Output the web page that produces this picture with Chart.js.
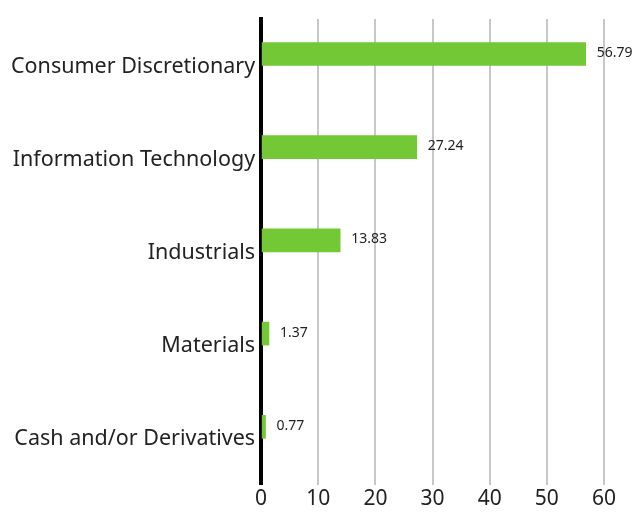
<!DOCTYPE html>
<html>
<head>
<meta charset="utf-8">
<script src="https://cdn.jsdelivr.net/npm/chart.js@4/dist/chart.umd.min.js"></script>
<style>
  html, body { margin: 0; padding: 0; background: #fff; }
  #wrap { width: 635px; height: 513px; }
</style>
</head>
<body>
<div id="wrap"><canvas id="grafico"></canvas></div>
<script>
const categorias = ['Consumer Discretionary', 'Information Technology', 'Industrials', 'Materials', 'Cash and/or Derivatives'];
const valores = [56.79, 27.24, 13.83, 1.37, 0.77];
const ticksX = [0, 10, 20, 30, 40, 50, 60];

// escreve o valor ao lado de cada barra
const rotulosValores = {
    id: 'rotulosValores',
    afterDatasetsDraw(chart) {
        const ctx = chart.ctx;
        const meta = chart.getDatasetMeta(0);
        ctx.save();
        ctx.font = '14px "Noto Sans"';
        ctx.fillStyle = '#222';
        ctx.textBaseline = 'middle';
        ctx.textAlign = 'left';
        meta.data.forEach((bar, i) => {
            ctx.fillText(valores[i].toFixed(2), bar.x + 11, bar.y - 1);
        });
        ctx.restore();
    }
};

const ctx = document.getElementById('grafico').getContext('2d');
new Chart(ctx, {
    type: 'bar',
    data: {
        labels: categorias,
        datasets: [
            {
                data: valores,
                backgroundColor: '#72c935',
                barThickness: 23
            },
            {
                // serie vazia, so para empurrar a barra pra cima como no original
                data: [],
                backgroundColor: 'transparent',
                barThickness: 23
            }
        ]
    },
    options: {
        indexAxis: 'y',
        responsive: true,
        maintainAspectRatio: false,
        animation: false,
        layout: { padding: { top: 15, right: 31, left: 5, bottom: 0 } },
        plugins: {
            legend: { display: false },
            tooltip: { enabled: false }
        },
        scales: {
            x: {
                min: 0,
                max: 60,
                afterBuildTicks: (axis) => {
                    axis.ticks = ticksX.map(v => ({ value: v }));
                },
                grid: {
                    color: (c) => c.tick && c.tick.value === 0 ? 'transparent' : '#c8c8c8',
                    lineWidth: 2,
                    drawTicks: false
                },
                border: { display: false },
                ticks: {
                    padding: 13,
                    color: '#222',
                    // altura pequena de linha: o eixo fica baixo e o texto em y ~500
                    font: { family: 'Noto Sans', size: 21, lineHeight: 0.1 }
                }
            },
            y: {
                grid: { display: false, drawTicks: false },
                border: { color: '#000', width: 4 },
                ticks: {
                    padding: 6,
                    labelOffset: 1,
                    color: '#222',
                    font: { family: 'Noto Sans', size: 21.5 }
                }
            }
        }
    },
    plugins: [rotulosValores]
});
</script>
</body>
</html>
